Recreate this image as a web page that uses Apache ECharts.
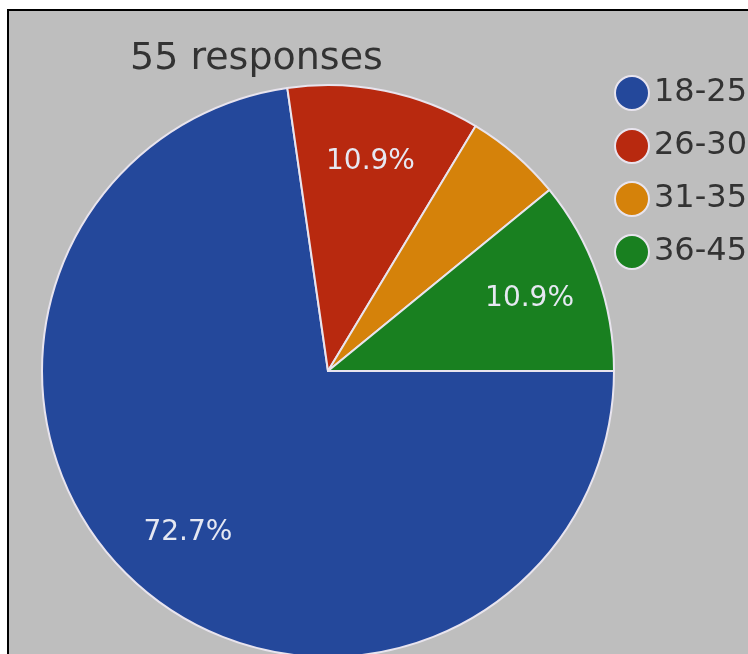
<!DOCTYPE html>
<html>
<head>
<meta charset="utf-8">
<script src="https://cdn.jsdelivr.net/npm/echarts@6/dist/echarts.min.js"></script>
<style>
html,body{margin:0;padding:0;background:#fff;width:748px;height:654px;overflow:hidden;}
#frame{position:absolute;left:7px;top:9px;width:741px;height:645px;box-sizing:border-box;border-left:2px solid #000;border-top:2px solid #000;background:#bebebe;}
#chart{position:absolute;left:0;top:0;width:748px;height:654px;}
</style>
</head>
<body>
<div id="frame"></div>
<div id="chart"></div>
<script>
const titleText = '55 responses';
const categories = ['18-25', '26-30', '31-35', '36-45'];
const counts = [40, 6, 3, 6];
const colors = ['#24489b', '#b8290f', '#d5820a', '#198020'];

const chart = echarts.init(document.getElementById('chart'), null, {renderer: 'canvas'});
const total = counts.reduce((a, b) => a + b, 0);
const data = categories.map((c, i) => ({name: c, value: counts[i], itemStyle: {color: colors[i]}}));
const labelData = categories.map((c, i) => ({
  name: c, value: counts[i],
  label: {show: counts[i] / total >= 0.1}
}));

chart.setOption({
  backgroundColor: 'transparent',
  animation: false,
  title: {
    text: titleText, left: 130, top: 40, padding: 0,
    textStyle: {fontFamily: 'DejaVu Sans', fontWeight: 'normal', fontSize: 38, color: '#333'}
  },
  legend: {
    orient: 'vertical', left: 614, top: 75, padding: 0,
    icon: 'circle', itemWidth: 34, itemHeight: 34, itemGap: 17,
    selectedMode: false,
    textStyle: {fontFamily: 'DejaVu Sans', fontSize: 32, lineHeight: 34, color: '#333'},
    data: categories.map((c, i) => ({name: c, itemStyle: {color: colors[i]}}))
  },
  series: [
    {
      type: 'pie', center: [328, 371], radius: [0, 286],
      startAngle: 0, clockwise: true,
      itemStyle: {borderColor: '#e8e4ee', borderWidth: 2},
      label: {show: false}, labelLine: {show: false},
      emphasis: {disabled: true},
      data: data
    },
    {
      type: 'pie', center: [328, 371], radius: [136, 286],
      startAngle: 0, clockwise: true, silent: true,
      itemStyle: {color: 'transparent', borderWidth: 0},
      label: {
        position: 'inside',
        formatter: p => (p.value / total * 100).toFixed(1) + '%',
        fontFamily: 'DejaVu Sans', fontSize: 28, color: '#e6e8f2'
      },
      labelLine: {show: false},
      emphasis: {disabled: true},
      data: labelData
    }
  ]
});
</script>
</body>
</html>
